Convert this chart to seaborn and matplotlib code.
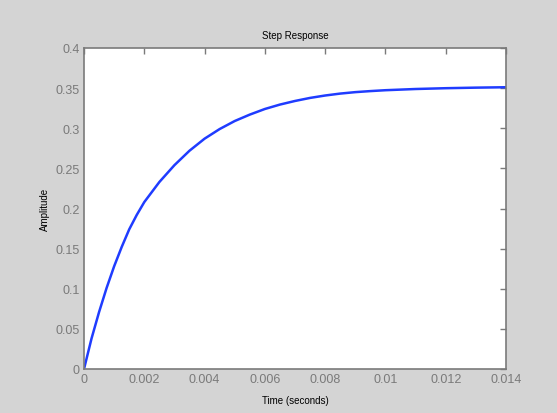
import matplotlib
matplotlib.use("Agg")
import matplotlib.pyplot as plt
import pandas as pd
import seaborn as sns

# Step response
time_s = [0.0, 0.00025, 0.0005, 0.00075, 0.001, 0.00125, 0.0015, 0.00175,
          0.002, 0.0025, 0.003, 0.0035, 0.004, 0.0045, 0.005, 0.0055,
          0.006, 0.0065, 0.007, 0.0075, 0.008, 0.0085, 0.009, 0.0095,
          0.010, 0.011, 0.012, 0.013, 0.014]
amplitude = [0.0, 0.038, 0.071, 0.101, 0.128, 0.152, 0.174, 0.192,
             0.208, 0.233, 0.254, 0.272, 0.287, 0.299, 0.309, 0.317,
             0.324, 0.3295, 0.3340, 0.3378, 0.3408, 0.3432, 0.3450, 0.3463,
             0.3474, 0.3489, 0.3499, 0.3506, 0.3511]
x_ticks = [0, 0.002, 0.004, 0.006, 0.008, 0.01, 0.012, 0.014]
x_tick_labels = ["0", "0.002", "0.004", "0.006", "0.008", "0.01", "0.012", "0.014"]
y_ticks = [0, 0.05, 0.1, 0.15, 0.2, 0.25, 0.3, 0.35, 0.4]
y_tick_labels = ["0", "0.05", "0.1", "0.15", "0.2", "0.25", "0.3", "0.35", "0.4"]

df = pd.DataFrame({"Time": time_s, "Amplitude": amplitude})

sns.set_style("white")
plt.rcParams["font.family"] = ["Liberation Sans", "DejaVu Sans"]

bg = "#d4d4d4"
axis_grey = "#7a7a7a"

fig = plt.figure(figsize=(5.57, 4.14), dpi=100, facecolor=bg)
ax = fig.add_axes([84 / 557, 44 / 414, 422 / 557, 321 / 414])
ax.set_facecolor("white")

sns.lineplot(data=df, x="Time", y="Amplitude", ax=ax, color="#1f3cff",
             linewidth=1.8)

ax.set_xlim(0, 0.014)
ax.set_ylim(0, 0.4)
ax.set_xticks(x_ticks)
ax.set_xticklabels(x_tick_labels)
ax.set_yticks(y_ticks)
ax.set_yticklabels(y_tick_labels)

ax.tick_params(direction="in", length=4, width=1, colors=axis_grey,
               labelsize=9, top=True, right=True, pad=3)
for spine in ax.spines.values():
    spine.set_color(axis_grey)
    spine.set_linewidth(1.2)

ax.set_title("Step Response", fontsize=7, color="black", pad=7)
ax.set_xlabel("Time (seconds)", fontsize=7, color="black", labelpad=7)
ax.set_ylabel("Amplitude", fontsize=7, color="black", labelpad=4)

fig.savefig("out.png", dpi=100, facecolor=bg)
plt.close(fig)
